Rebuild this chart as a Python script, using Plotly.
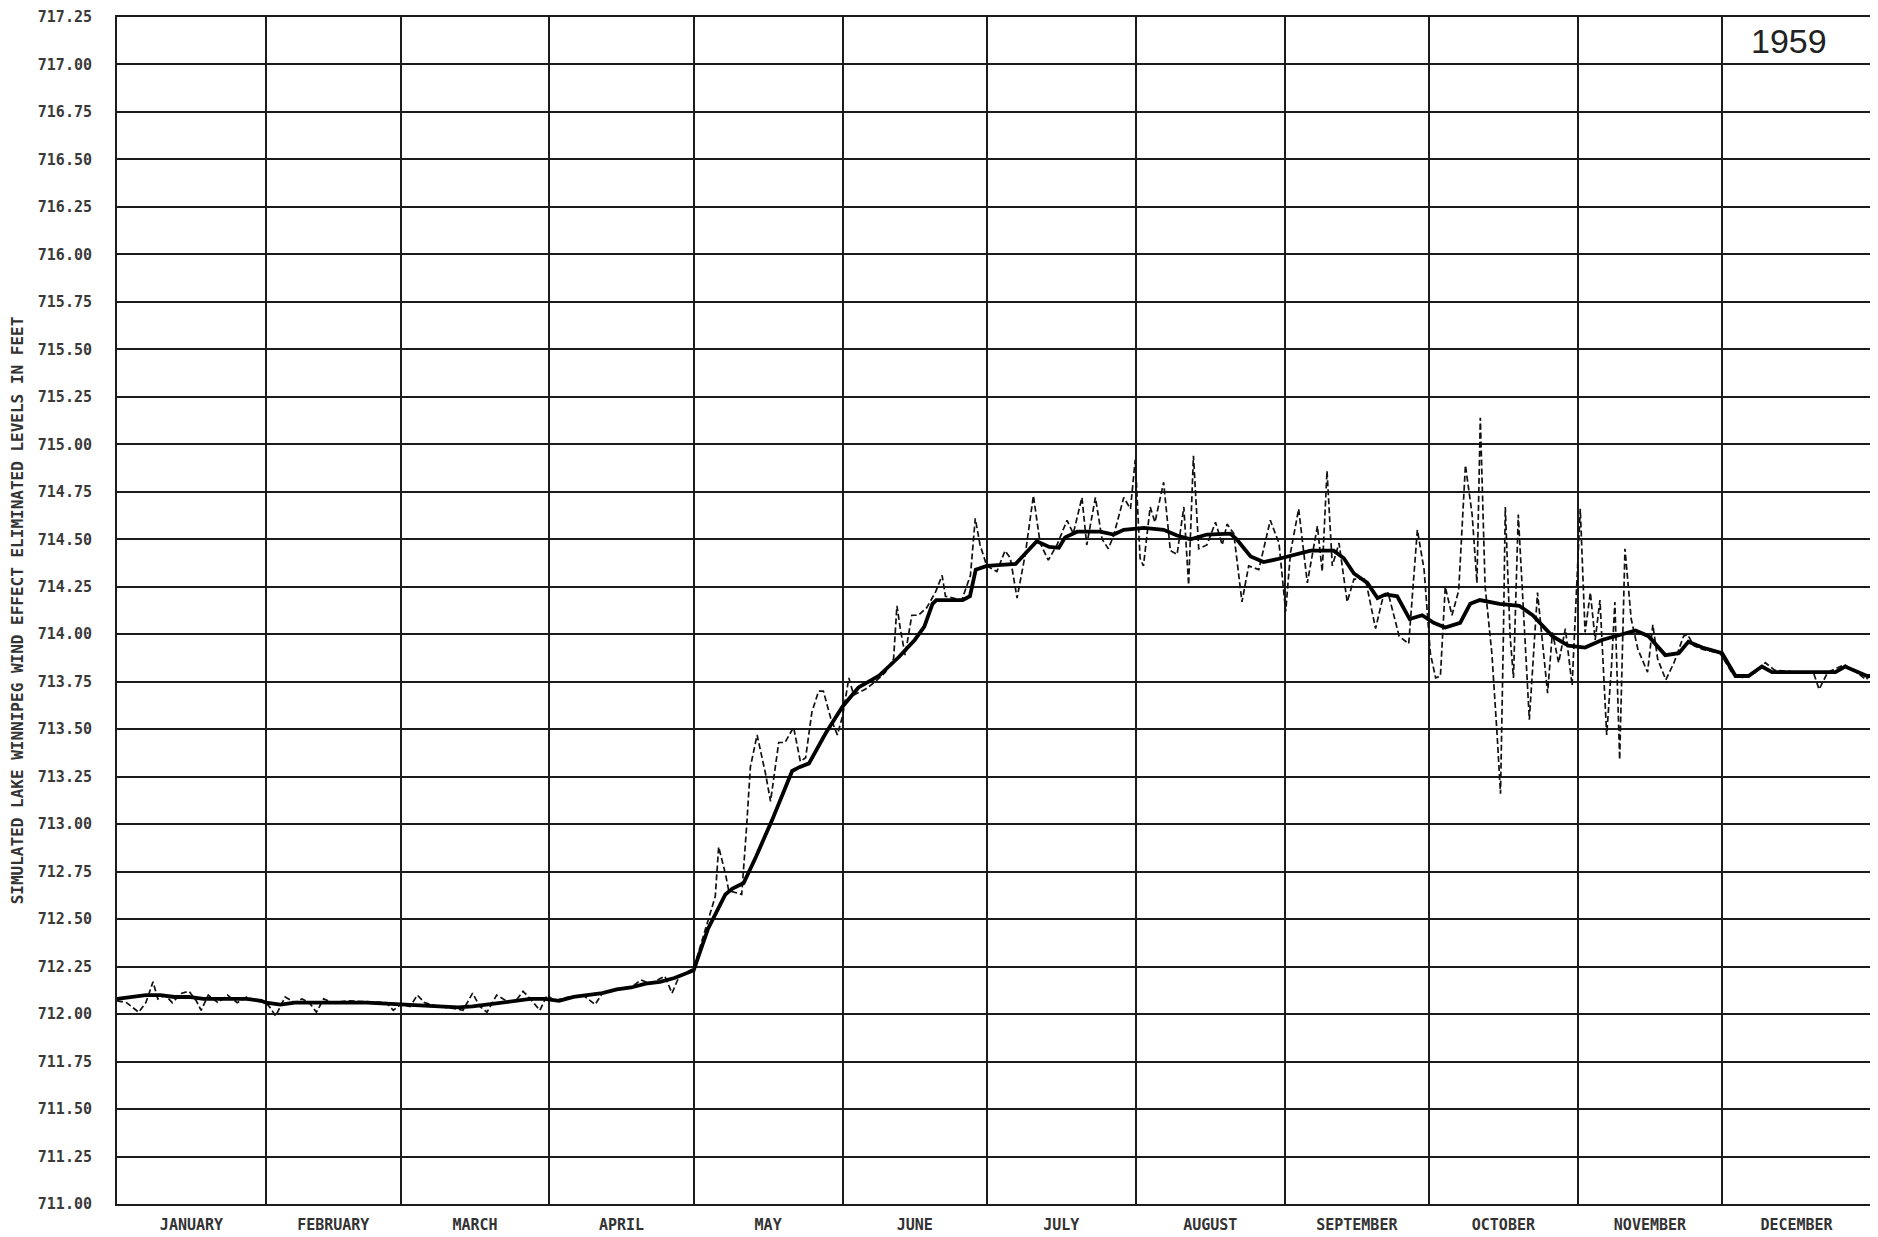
import plotly.graph_objects as go

# month layout (1959, day of year)
month_names = ["JANUARY", "FEBRUARY", "MARCH", "APRIL", "MAY", "JUNE",
               "JULY", "AUGUST", "SEPTEMBER", "OCTOBER", "NOVEMBER", "DECEMBER"]
month_starts = [0, 31, 59, 90, 120, 151, 181, 212, 243, 273, 304, 334, 365]

# wind effect eliminated level (heavy line)
smooth_day = [0, 3, 6, 9, 12, 15, 18, 21, 24, 27, 30, 31, 34, 37, 40, 44, 48, 52, 56,
              59, 62, 65, 68, 71, 74, 77, 80, 83, 86, 89, 92, 95, 98, 101, 104, 107,
              110, 113, 116, 118, 120, 123, 126.6, 128, 130.4, 133, 136.3, 140.5, 142,
              144, 147.5, 151, 154.3, 158.5, 162.7, 166, 168, 169.7, 170.5, 176, 177.5,
              178.7, 181, 187, 190, 191.4, 194, 196, 197.3, 199.8, 204.6, 207.4, 209.5,
              213.7, 217.8, 220.6, 223.4, 226.8, 231.7, 233, 235.9, 238.6, 241.4, 245.6,
              248.4, 253.2, 255.3, 257.4, 260.2, 262.3, 264, 266.4, 269, 271.6, 274,
              276.4, 279.5, 281.6, 283.6, 287.7, 291.8, 294.6, 298.7, 302, 305.5, 309,
              312.5, 316, 318.7, 322.2, 325, 327, 329.9, 334, 336.8, 339.5, 342.3, 344.4,
              350.6, 357.6, 359.6, 362.4, 364.2, 365]
smooth_level = [712.08, 712.09, 712.10, 712.10, 712.09, 712.09, 712.08, 712.08, 712.08,
                712.08, 712.07, 712.06, 712.05, 712.06, 712.06, 712.06, 712.06, 712.06,
                712.055, 712.05, 712.05, 712.045, 712.04, 712.035, 712.04, 712.05, 712.06,
                712.07, 712.08, 712.08, 712.07, 712.09, 712.10, 712.11, 712.13, 712.14,
                712.16, 712.17, 712.19, 712.21, 712.23, 712.45, 712.63, 712.66, 712.69,
                712.83, 713.02, 713.28, 713.30, 713.32, 713.48, 713.62, 713.72, 713.78,
                713.88, 713.97, 714.04, 714.16, 714.18, 714.18, 714.20, 714.34, 714.36,
                714.37, 714.45, 714.49, 714.46, 714.455, 714.51, 714.54, 714.54, 714.525,
                714.55, 714.56, 714.55, 714.52, 714.50, 714.525, 714.53, 714.50, 714.41,
                714.38, 714.395, 714.42, 714.44, 714.44, 714.40, 714.32, 714.27, 714.19,
                714.21, 714.20, 714.08, 714.10, 714.06, 714.035, 714.06, 714.16, 714.18,
                714.16, 714.15, 714.10, 713.99, 713.94, 713.93, 713.97, 713.995, 714.02,
                713.99, 713.89, 713.90, 713.96, 713.93, 713.90, 713.78, 713.78, 713.83,
                713.80, 713.80, 713.80, 713.83, 713.80, 713.78, 713.78]

# simulated daily level (dashed line)
daily_day = [0, 2, 4.5, 6, 7.5, 8.5, 10, 11.5, 13.5, 15, 16.5, 17.5, 19, 21, 23, 25, 27, 29,
             31, 32, 33, 35, 37, 38.5, 40, 41.5, 43, 45, 48, 52, 56, 57.5, 59, 61, 62.5, 64,
             67, 70, 72, 74, 75.5, 77, 79, 81, 83, 84.5, 86, 88, 89.5, 91, 94, 97, 99.5,
             101, 104, 107, 109, 111, 114, 115.5, 117, 120,
             124.5, 125.2, 126.6, 127.3, 130, 131, 131.8, 133.2, 135, 136, 137.7, 139,
             140.8, 142.2, 143.3, 144.6, 146, 147, 148.5, 149.9, 151, 152.3, 153.3, 155.7,
             157.8, 159.9, 161.6, 162.3, 163, 164, 165.4, 166.8, 168.5, 170.3, 171.7, 172.4,
             175.8, 177.6, 178.6, 179.6, 181, 183.1, 184.8, 185.9, 187.3, 189, 190.7, 192.1,
             193.8, 195.6, 197.7, 199, 200.8, 201.8, 203.6, 205, 206.3, 207.4, 209.5, 210.9,
             211.9, 212.9, 213.6, 215, 216, 217.8, 219.2, 220.6, 222, 223, 224, 225.1,
             226.8, 228.6, 230, 231, 232.4, 234.1, 235.5, 237.6, 240, 241.8, 243.2, 244.2,
             245.9, 247.7, 249.8, 250.8, 251.8, 252.9, 254.3, 256, 257.4, 259.8, 261.9,
             263.3, 264.5, 266.8, 268.8, 270.6, 272, 273.3, 274.4, 275.4, 276.4, 277.8,
             279.2, 280.6, 282, 283, 283.7, 284.7, 286.1, 287.2, 287.9, 288.5, 288.9, 289.9,
             290.6, 291.6, 293, 293.9, 295.6, 297.7, 298.7, 300, 301.4, 302.8, 304.5, 305.5,
             306.6, 307.6, 308.6, 310, 311, 311.7, 312.7, 313.8, 315.1, 316.5, 318.5, 319.6,
             320.6, 322.3, 324, 326, 326.8, 328.1, 330, 333.6, 336, 338, 341, 343, 345, 350,
             353, 354.2, 356, 359.5, 362, 364, 365]
daily_level = [712.07, 712.06, 712.01, 712.06, 712.17, 712.08, 712.10, 712.06, 712.11,
               712.12, 712.07, 712.02, 712.10, 712.06, 712.10, 712.06, 712.09, 712.07,
               712.06, 712.03, 711.99, 712.09, 712.06, 712.08, 712.06, 712.01, 712.08,
               712.06, 712.07, 712.065, 712.06, 712.02, 712.05, 712.04, 712.10, 712.06,
               712.04, 712.03, 712.02, 712.11, 712.04, 712.01, 712.10, 712.07, 712.07,
               712.12, 712.08, 712.02, 712.10, 712.07, 712.09, 712.10, 712.05, 712.11,
               712.13, 712.14, 712.18, 712.16, 712.20, 712.11, 712.20, 712.24,
               712.62, 712.88, 712.74, 712.65, 712.63, 712.98, 713.30, 713.47, 713.26,
               713.12, 713.43, 713.43, 713.51, 713.33, 713.35, 713.59, 713.70, 713.70,
               713.56, 713.47, 713.57, 713.77, 713.68, 713.71, 713.75, 713.80, 713.87,
               714.15, 714.03, 713.89, 714.10, 714.10, 714.14, 714.22, 714.31, 714.20,
               714.18, 714.31, 714.61, 714.47, 714.36, 714.33, 714.44, 714.40, 714.19,
               714.42, 714.73, 714.48, 714.39, 714.47, 714.60, 714.53, 714.72, 714.47,
               714.72, 714.50, 714.45, 714.52, 714.72, 714.66, 714.92, 714.40, 714.36,
               714.67, 714.59, 714.80, 714.44, 714.42, 714.67, 714.26, 714.94, 714.45,
               714.47, 714.59, 714.47, 714.58, 714.53, 714.17, 714.36, 714.34, 714.60,
               714.48, 714.12, 714.43, 714.66, 714.27, 714.57, 714.33, 714.86, 714.36,
               714.48, 714.17, 714.29, 714.29, 714.03, 714.18, 714.22, 713.99, 713.95,
               714.55, 714.34, 713.90, 713.77, 713.78, 714.25, 714.10, 714.23, 714.89,
               714.63, 714.27, 715.14, 714.25, 713.90, 713.47, 713.16, 713.99, 714.67,
               713.99, 713.77, 714.63, 713.99, 713.55, 714.22, 713.69, 714.01, 713.85,
               714.03, 713.73, 714.66, 714.01, 714.22, 713.97, 714.18, 713.47, 713.83,
               714.17, 713.34, 714.45, 714.08, 713.92, 713.80, 714.05, 713.87, 713.76,
               713.85, 713.99, 714.00, 713.94, 713.92, 713.90, 713.80, 713.77, 713.80,
               713.85, 713.81, 713.80, 713.80, 713.71, 713.80, 713.84, 713.80, 713.76,
               713.79]

year_label = "1959"

mid_month = [(a + b) / 2 for a, b in zip(month_starts[:-1], month_starts[1:])]
ink = "#1c1c1c"
mono = "DejaVu Sans Mono"

fig = go.Figure()
fig.add_trace(go.Scatter(x=daily_day, y=daily_level, mode="lines",
                         line=dict(color="#111111", width=1.7, dash="6px,3px")))
fig.add_trace(go.Scatter(x=smooth_day, y=smooth_level, mode="lines",
                         line=dict(color="#000000", width=3.8)))

# the page body adds an 8px offset, so the figure is 8px smaller than the window
fig.update_layout(
    width=1870, height=1229,
    margin=dict(l=109, r=7, t=9, b=33),
    plot_bgcolor="white", paper_bgcolor="white",
    showlegend=False,
    xaxis=dict(
        range=[0, 365], automargin=False,
        tickvals=mid_month, ticktext=month_names,
        showgrid=False, ticks="", zeroline=False,
        tickfont=dict(family=mono, size=15, color="#333333", weight="bold"),
        ticklabelstandoff=6, ticklabeloverflow="allow",
        minor=dict(tickvals=month_starts, showgrid=True, gridcolor=ink, gridwidth=2, ticks=""),
        showline=True, mirror=True, linecolor=ink, linewidth=2,
    ),
    yaxis=dict(
        range=[711.0, 717.25], automargin=False,
        dtick=0.25, tick0=711.0, tickformat=".2f",
        showgrid=True, gridcolor=ink, gridwidth=2, zeroline=False, ticks="",
        tickfont=dict(family=mono, size=15, color="#3a3a3a", weight="bold"),
        ticklabelstandoff=20, ticklabeloverflow="allow",
        showline=True, mirror=True, linecolor=ink, linewidth=2,
        title=dict(text="SIMULATED LAKE WINNIPEG WIND EFFECT ELIMINATED LEVELS IN FEET",
                   font=dict(family=mono, size=16, color="#333333", weight="bold"),
                   standoff=12),
    ),
    annotations=[dict(text=year_label, x=0.953, y=0.98, xref="paper", yref="paper",
                      xanchor="center", yanchor="middle", showarrow=False,
                      font=dict(family="Liberation Sans", size=34, color="#222222"))],
)

fig.write_html("out.html")
